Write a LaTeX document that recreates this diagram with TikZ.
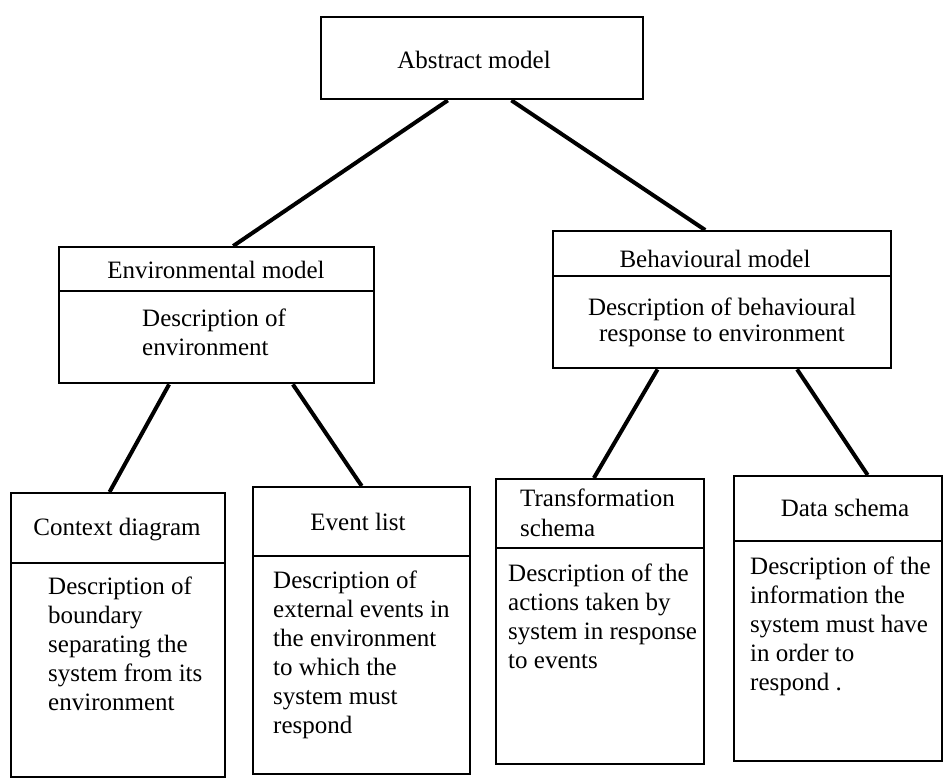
\documentclass[tikz,border=0pt]{standalone}
\usepackage{fontspec}
\setmainfont{Liberation Serif}
\usetikzlibrary{calc}
\begin{document}
\begin{tikzpicture}[x=1pt, y=-1pt,
  box/.style={draw, line width=2.4pt, inner sep=0pt, anchor=north west},
  link/.style={line width=4pt},
  txt/.style={inner sep=0pt, font=\fontsize{25}{29}\selectfont},
  body/.style={txt, anchor=north west, align=left},
]
\useasboundingbox (0,0) rectangle (943,778);

% top level
\node[box, minimum width=322pt, minimum height=82pt] (abs) at (320,16) {};
\node[txt] (abst) at (474,60) {Abstract model};

% environmental model
\node[box, minimum width=315pt, minimum height=44pt] (envh) at (58,246) {};
\node[box, minimum width=315pt, minimum height=92pt] (envb) at (58,290) {};
\node[txt] (envt) at (216,270) {Environmental model};
\node[body] (envd) at (142,309) {Description of\\environment};

% behavioural model
\node[box, minimum width=338pt, minimum height=45pt] (behh) at (552,230) {};
\node[box, minimum width=338pt, minimum height=92pt] (behb) at (552,275) {};
\node[txt] (beht) at (715,259) {Behavioural model};
\node[txt, anchor=north, align=center, font=\fontsize{25}{26}\selectfont] (behd) at (722,298)
  {Description of behavioural\\response to environment};

% context diagram
\node[box, minimum width=214pt, minimum height=70pt] (ctxh) at (10,492) {};
\node[box, minimum width=214pt, minimum height=214pt] (ctxb) at (10,562) {};
\node[txt] (ctxt) at (117,530) {Context diagram};
\node[body] (ctxd) at (48,577) {Description of\\boundary\\separating the\\system from its\\environment};

% event list
\node[box, minimum width=217pt, minimum height=69pt] (evth) at (252,486) {};
\node[box, minimum width=217pt, minimum height=218pt] (evtb) at (252,555) {};
\node[txt] (evtt) at (358,522) {Event list};
\node[body] (evtd) at (273,571) {Description of\\external events in\\the environment\\to which the\\system must\\respond};

% transformation schema
\node[box, minimum width=208pt, minimum height=69pt] (trah) at (495,478) {};
\node[box, minimum width=208pt, minimum height=216pt] (trab) at (495,547) {};
\node[body, font=\fontsize{25}{30}\selectfont] (trat) at (520,489) {Transformation\\schema};
\node[body] (trad) at (508,564) {Description of the\\actions taken by\\system in response\\to events};

% data schema
\node[box, minimum width=208pt, minimum height=65pt] (dath) at (733,475) {};
\node[box, minimum width=208pt, minimum height=220pt] (datb) at (733,540) {};
\node[txt] (datt) at (845,508) {Data schema};
\node[body] (datd) at (750,557) {Description of the\\information the\\system must have\\in order to\\respond .};

% connectors
\draw[link] ($(abs.south west)!0.394!(abs.south east)$) -- ($(envh.north west)!0.552!(envh.north east)$);
\draw[link] ($(abs.south west)!0.59!(abs.south east)$) -- ($(behh.north west)!0.45!(behh.north east)$);
\draw[link] ($(envb.south west)!0.35!(envb.south east)$) -- ($(ctxh.north west)!0.46!(ctxh.north east)$);
\draw[link] ($(envb.south west)!0.74!(envb.south east)$) -- ($(evth.north west)!0.50!(evth.north east)$);
\draw[link] ($(behb.south west)!0.31!(behb.south east)$) -- ($(trah.north west)!0.47!(trah.north east)$);
\draw[link] ($(behb.south west)!0.72!(behb.south east)$) -- ($(dath.north west)!0.64!(dath.north east)$);
\end{tikzpicture}
\end{document}
